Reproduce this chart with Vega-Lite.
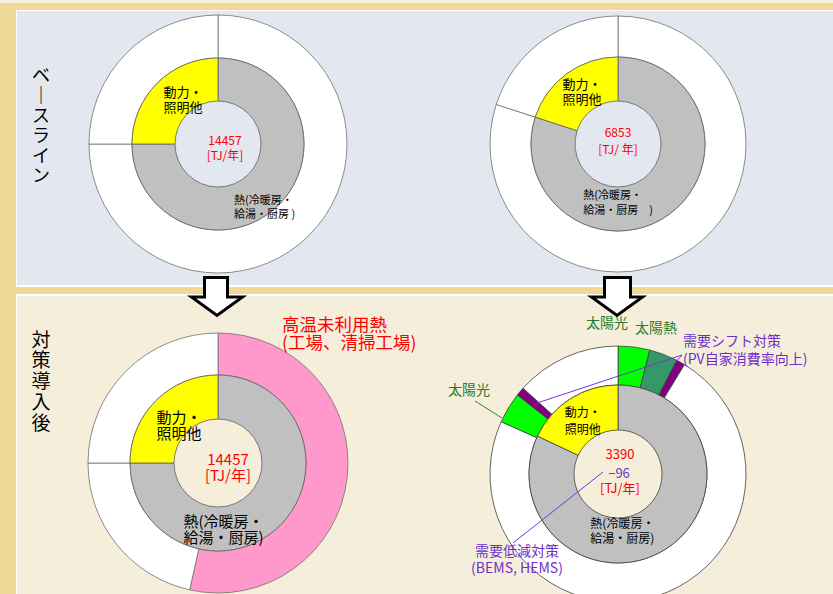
{
  "$schema": "https://vega.github.io/schema/vega-lite/v6.json",
  "padding": 0,
  "background": "#f4eedb",
  "bounds": "flush",
  "align": "each",
  "spacing": 0,
  "columns": 5,
  "data": {"values": [{}]},
  "config": {"font": "Noto Sans CJK JP", "view": {"stroke": null}, "concat": {"spacing": 0}},
  "concat": [
    {"width": 16, "height": 7, "view": {"fill": "#f0d898"}, "mark": {"type": "text", "text": ""}},
    {"width": 1, "height": 7, "view": {"fill": "#f0d898"}, "mark": {"type": "text", "text": ""}},
    {"width": 16, "height": 7, "view": {"fill": "#f0d898"}, "mark": {"type": "text", "text": ""}},
    {"width": 370, "height": 7, "view": {"fill": "#f0d898"}, "mark": {"type": "text", "text": ""}},
    {"width": 430, "height": 7, "view": {"fill": "#f0d898"}, "mark": {"type": "text", "text": ""}},

    {"width": 16, "height": 1, "view": {"fill": "#f0d898"}, "mark": {"type": "text", "text": ""}},
    {"width": 1, "height": 1, "view": {"fill": "#ffffff"}, "mark": {"type": "text", "text": ""}},
    {"width": 16, "height": 1, "view": {"fill": "#ffffff"}, "mark": {"type": "text", "text": ""}},
    {"width": 370, "height": 1, "view": {"fill": "#ffffff"}, "mark": {"type": "text", "text": ""}},
    {"width": 430, "height": 1, "view": {"fill": "#ffffff"}, "mark": {"type": "text", "text": ""}},

    {"width": 16, "height": 266, "view": {"fill": "#f0d898"}, "mark": {"type": "text", "text": ""}},
    {"width": 1, "height": 266, "view": {"fill": "#ffffff"}, "mark": {"type": "text", "text": ""}},
    {"width": 16, "height": 266, "view": {"fill": "#e3e8f0"}, "mark": {"type": "text", "text": ""}},
    {
      "width": 370, "height": 266, "view": {"fill": "#e3e8f0"},
      "data": {"values": [
        {"ring": "outer", "cat": "その他", "v": 75, "o": 1, "label": ""},
        {"ring": "outer", "cat": "その他", "v": 25, "o": 2, "label": ""},
        {"ring": "inner", "cat": "熱", "v": 75, "o": 1, "label": "熱(冷暖房・\n給湯・厨房 )"},
        {"ring": "inner", "cat": "動力・照明他", "v": 25, "o": 2, "label": "動力・\n照明他"}
      ]},
      "layer": [
        {"data": {"values": [{"t": "ベ\n｜\nス\nラ\nイ\nン"}]}, "mark": {"type": "text", "fontSize": 18, "lineHeight": 20, "lineBreak": "\n", "align": "center", "baseline": "middle", "dx": -177, "dy": -67, "fill": "#000000"},
         "encoding": {"text": {"field": "t", "type": "nominal"}}},
        {"transform": [{"filter": "datum.ring==='outer'"}], "mark": {"type": "arc", "radius": 129, "radius2": 86, "stroke": "#707070", "strokeWidth": 0.8},
         "encoding": {"theta": {"field": "v", "type": "quantitative", "stack": true, "scale": {"domain": [0, 100]}}, "order": {"field": "o", "type": "quantitative"},
           "color": {"field": "cat", "type": "nominal", "scale": {"domain": ["熱", "動力・照明他", "その他", "高温未利用熱", "太陽光", "太陽熱", "需要シフト"], "range": ["#c0c0c0", "#ffff00", "#ffffff", "#ff99cc", "#00ff00", "#339966", "#800080"]}, "legend": null}}},
        {"transform": [{"filter": "datum.ring==='inner'"}], "mark": {"type": "arc", "radius": 86, "radius2": 43, "stroke": "#606060", "strokeWidth": 0.8},
         "encoding": {"theta": {"field": "v", "type": "quantitative", "stack": true, "scale": {"domain": [0, 100]}}, "order": {"field": "o", "type": "quantitative"},
           "color": {"field": "cat", "type": "nominal", "scale": {"domain": ["熱", "動力・照明他", "その他", "高温未利用熱", "太陽光", "太陽熱", "需要シフト"], "range": ["#c0c0c0", "#ffff00", "#ffffff", "#ff99cc", "#00ff00", "#339966", "#800080"]}, "legend": null}}},
        {"transform": [{"filter": "datum.ring==='inner'"}], "mark": {"type": "text", "radius": 56, "align": "left", "baseline": "middle", "dx": -15, "dy": -11.5, "fontSize": 13, "lineHeight": 15, "lineBreak": "\n", "fill": "#000000"},
         "encoding": {"theta": {"field": "v", "type": "quantitative", "stack": true, "scale": {"domain": [0, 100]}}, "order": {"field": "o", "type": "quantitative"},
           "text": {"condition": {"test": "datum.cat==='動力・照明他'", "field": "label", "type": "nominal"}, "value": ""}}},
        {"transform": [{"filter": "datum.ring==='inner'"}], "mark": {"type": "text", "radius": 75, "align": "left", "baseline": "middle", "dx": -37, "dy": 4, "fontSize": 11, "lineHeight": 14, "lineBreak": "\n", "fill": "#000000"},
         "encoding": {"theta": {"field": "v", "type": "quantitative", "stack": true, "scale": {"domain": [0, 100]}}, "order": {"field": "o", "type": "quantitative"},
           "text": {"condition": {"test": "datum.cat==='熱'", "field": "label", "type": "nominal"}, "value": ""}}},
        {"data": {"values": [{"t": "14457\n[TJ/年]"}]}, "mark": {"type": "text", "align": "center", "baseline": "middle", "dx": 7, "dy": -3.5, "fontSize": 12, "lineHeight": 15, "lineBreak": "\n", "fill": "#ff0000"},
         "encoding": {"text": {"field": "t", "type": "nominal"}}}
      ]
    },
    {
      "width": 430, "height": 266, "view": {"fill": "#e3e8f0"},
      "data": {"values": [
        {"ring": "outer", "cat": "その他", "v": 80, "o": 1, "label": ""},
        {"ring": "outer", "cat": "その他", "v": 20, "o": 2, "label": ""},
        {"ring": "inner", "cat": "熱", "v": 80, "o": 1, "label": "熱(冷暖房・\n給湯・厨房　)"},
        {"ring": "inner", "cat": "動力・照明他", "v": 20, "o": 2, "label": "動力・\n照明他"}
      ]},
      "layer": [
        {"transform": [{"filter": "datum.ring==='outer'"}], "mark": {"type": "arc", "radius": 128, "radius2": 87, "stroke": "#707070", "strokeWidth": 0.8},
         "encoding": {"theta": {"field": "v", "type": "quantitative", "stack": true, "scale": {"domain": [0, 100]}}, "order": {"field": "o", "type": "quantitative"},
           "color": {"field": "cat", "type": "nominal", "scale": {"domain": ["熱", "動力・照明他", "その他", "高温未利用熱", "太陽光", "太陽熱", "需要シフト"], "range": ["#c0c0c0", "#ffff00", "#ffffff", "#ff99cc", "#00ff00", "#339966", "#800080"]}, "legend": null}}},
        {"transform": [{"filter": "datum.ring==='inner'"}], "mark": {"type": "arc", "radius": 87, "radius2": 43, "stroke": "#606060", "strokeWidth": 0.8},
         "encoding": {"theta": {"field": "v", "type": "quantitative", "stack": true, "scale": {"domain": [0, 100]}}, "order": {"field": "o", "type": "quantitative"},
           "color": {"field": "cat", "type": "nominal", "scale": {"domain": ["熱", "動力・照明他", "その他", "高温未利用熱", "太陽光", "太陽熱", "需要シフト"], "range": ["#c0c0c0", "#ffff00", "#ffffff", "#ff99cc", "#00ff00", "#339966", "#800080"]}, "legend": null}}},
        {"transform": [{"filter": "datum.ring==='inner'"}], "mark": {"type": "text", "radius": 64, "align": "left", "baseline": "middle", "dx": -18, "dy": -7.5, "fontSize": 13, "lineHeight": 15, "lineBreak": "\n", "fill": "#000000"},
         "encoding": {"theta": {"field": "v", "type": "quantitative", "stack": true, "scale": {"domain": [0, 100]}}, "order": {"field": "o", "type": "quantitative"},
           "text": {"condition": {"test": "datum.cat==='動力・照明他'", "field": "label", "type": "nominal"}, "value": ""}}},
        {"transform": [{"filter": "datum.ring==='inner'"}], "mark": {"type": "text", "radius": 60, "align": "left", "baseline": "middle", "dx": -70, "dy": 3.5, "fontSize": 11, "lineHeight": 15, "lineBreak": "\n", "fill": "#000000"},
         "encoding": {"theta": {"field": "v", "type": "quantitative", "stack": true, "scale": {"domain": [0, 100]}}, "order": {"field": "o", "type": "quantitative"},
           "text": {"condition": {"test": "datum.cat==='熱'", "field": "label", "type": "nominal"}, "value": ""}}},
        {"data": {"values": [{"t": "6853\n[TJ/ 年]"}]}, "mark": {"type": "text", "align": "center", "baseline": "middle", "dx": 0, "dy": -11.5, "fontSize": 12, "lineHeight": 17, "lineBreak": "\n", "fill": "#ff0000"},
         "encoding": {"text": {"field": "t", "type": "nominal"}}}
      ]
    },

    {"width": 16, "height": 8, "view": {"fill": "#f0d898"}, "mark": {"type": "text", "text": ""}},
    {"width": 1, "height": 8, "view": {"fill": "#ffffff"}, "mark": {"type": "text", "text": ""}},
    {"width": 16, "height": 8, "view": {"fill": "#e3e8f0"}, "mark": {"type": "text", "text": ""}},
    {"width": 370, "height": 8, "view": {"fill": "#e3e8f0"}, "mark": {"type": "text", "text": ""}},
    {"width": 430, "height": 8, "view": {"fill": "#e3e8f0"}, "mark": {"type": "text", "text": ""}},

    {"width": 16, "height": 2, "view": {"fill": "#f0d898"}, "mark": {"type": "text", "text": ""}},
    {"width": 1, "height": 2, "view": {"fill": "#ffffff"}, "mark": {"type": "text", "text": ""}},
    {"width": 16, "height": 2, "view": {"fill": "#ffffff"}, "mark": {"type": "text", "text": ""}},
    {"width": 370, "height": 2, "view": {"fill": "#ffffff"}, "mark": {"type": "text", "text": ""}},
    {"width": 430, "height": 2, "view": {"fill": "#ffffff"}, "mark": {"type": "text", "text": ""}},

    {"width": 16, "height": 7, "view": {"fill": "#f0d898"}, "mark": {"type": "text", "text": ""}},
    {"width": 1, "height": 7, "view": {"fill": "#f0d898"}, "mark": {"type": "text", "text": ""}},
    {"width": 16, "height": 7, "view": {"fill": "#f0d898"}, "mark": {"type": "text", "text": ""}},
    {"width": 370, "height": 7, "view": {"fill": "#f0d898"}, "mark": {"type": "text", "text": ""}},
    {"width": 430, "height": 7, "view": {"fill": "#f0d898"}, "mark": {"type": "text", "text": ""}},

    {"width": 16, "height": 2, "view": {"fill": "#f0d898"}, "mark": {"type": "text", "text": ""}},
    {"width": 1, "height": 2, "view": {"fill": "#ffffff"}, "mark": {"type": "text", "text": ""}},
    {"width": 16, "height": 2, "view": {"fill": "#ffffff"}, "mark": {"type": "text", "text": ""}},
    {"width": 370, "height": 2, "view": {"fill": "#ffffff"}, "mark": {"type": "text", "text": ""}},
    {"width": 430, "height": 2, "view": {"fill": "#ffffff"}, "mark": {"type": "text", "text": ""}},

    {"width": 16, "height": 356, "view": {"fill": "#f0d898"}, "mark": {"type": "text", "text": ""}},
    {"width": 1, "height": 356, "view": {"fill": "#ffffff"}, "mark": {"type": "text", "text": ""}},
    {"width": 16, "height": 334, "mark": {"type": "text", "text": ""}},
    {
      "width": 370, "height": 334,
      "data": {"values": [
        {"ring": "outer", "cat": "高温未利用熱", "v": 53.5, "o": 1, "label": "高温未利用熱"},
        {"ring": "outer", "cat": "その他", "v": 21.5, "o": 2, "label": ""},
        {"ring": "outer", "cat": "その他", "v": 25, "o": 3, "label": ""},
        {"ring": "inner", "cat": "熱", "v": 75, "o": 1, "label": "熱(冷暖房・\n給湯・厨房)"},
        {"ring": "inner", "cat": "動力・照明他", "v": 25, "o": 2, "label": "動力・\n照明他"}
      ]},
      "layer": [
        {"data": {"values": [{"t": "対\n策\n導\n入\n後"}]}, "mark": {"type": "text", "fontSize": 19, "lineHeight": 20.75, "lineBreak": "\n", "align": "center", "baseline": "middle", "dx": -177, "dy": -122.5, "fill": "#000000"},
         "encoding": {"text": {"field": "t", "type": "nominal"}}},
        {"transform": [{"filter": "datum.ring==='outer'"}], "mark": {"type": "arc", "radius": 130, "radius2": 88, "stroke": "#707070", "strokeWidth": 0.8},
         "encoding": {"theta": {"field": "v", "type": "quantitative", "stack": true, "scale": {"domain": [0, 100]}}, "order": {"field": "o", "type": "quantitative"},
           "color": {"field": "cat", "type": "nominal", "scale": {"domain": ["熱", "動力・照明他", "その他", "高温未利用熱", "太陽光", "太陽熱", "需要シフト"], "range": ["#c0c0c0", "#ffff00", "#ffffff", "#ff99cc", "#00ff00", "#339966", "#800080"]}, "legend": null}}},
        {"transform": [{"filter": "datum.ring==='inner'"}], "mark": {"type": "arc", "radius": 88, "radius2": 44, "stroke": "#606060", "strokeWidth": 0.8},
         "encoding": {"theta": {"field": "v", "type": "quantitative", "stack": true, "scale": {"domain": [0, 100]}}, "order": {"field": "o", "type": "quantitative"},
           "color": {"field": "cat", "type": "nominal", "scale": {"domain": ["熱", "動力・照明他", "その他", "高温未利用熱", "太陽光", "太陽熱", "需要シフト"], "range": ["#c0c0c0", "#ffff00", "#ffffff", "#ff99cc", "#00ff00", "#339966", "#800080"]}, "legend": null}}},
        {"transform": [{"filter": "datum.ring==='inner'"}], "mark": {"type": "text", "radius": 56, "align": "left", "baseline": "middle", "dx": -22, "dy": -5, "fontSize": 15, "lineHeight": 16, "lineBreak": "\n", "fill": "#000000"},
         "encoding": {"theta": {"field": "v", "type": "quantitative", "stack": true, "scale": {"domain": [0, 100]}}, "order": {"field": "o", "type": "quantitative"},
           "text": {"condition": {"test": "datum.cat==='動力・照明他'", "field": "label", "type": "nominal"}, "value": ""}}},
        {"transform": [{"filter": "datum.ring==='inner'"}], "mark": {"type": "text", "radius": 70, "align": "center", "baseline": "middle", "dx": -44, "dy": 10, "fontSize": 15, "lineHeight": 16, "lineBreak": "\n", "fill": "#000000"},
         "encoding": {"theta": {"field": "v", "type": "quantitative", "stack": true, "scale": {"domain": [0, 100]}}, "order": {"field": "o", "type": "quantitative"},
           "text": {"condition": {"test": "datum.cat==='熱'", "field": "label", "type": "nominal"}, "value": ""}}},
        {"data": {"values": [{"t": "14457\n[TJ/年]"}]}, "mark": {"type": "text", "align": "center", "baseline": "middle", "dx": 10, "dy": -3, "fontSize": 15, "lineHeight": 16, "lineBreak": "\n", "fill": "#ff0000"},
         "encoding": {"text": {"field": "t", "type": "nominal"}}},
        {"data": {"values": [{"t": "高温未利用熱\n(工場、清掃工場)"}]}, "mark": {"type": "text", "align": "left", "baseline": "middle", "dx": 64, "dy": -137, "fontSize": 17.5, "lineHeight": 18, "lineBreak": "\n", "fill": "#ff0000"},
         "encoding": {"text": {"field": "t", "type": "nominal"}}},
        {"data": {"values": [{"a": "arrow"}]}, "mark": {"type": "point", "shape": "M -13.5 -185.5 L 9.5 -185.5 L 9.5 -166 L 24.5 -166 L -1 -147.5 L -26.5 -166 L -13.5 -166 Z", "size": 4, "filled": true, "fill": "#ffffff", "stroke": "#000000", "strokeWidth": 3, "strokeJoin": "miter", "opacity": 1},
         "encoding": {}}
      ]
    },
    {
      "width": 430, "height": 356,
      "data": {"values": [
        {"ring": "outer", "cat": "太陽光", "v": 4.0, "o": 1, "label": "太陽光"},
        {"ring": "outer", "cat": "太陽熱", "v": 3.6, "o": 2, "label": "太陽熱"},
        {"ring": "outer", "cat": "需要シフト", "v": 1.1, "o": 3, "label": ""},
        {"ring": "outer", "cat": "その他", "v": 73.0, "o": 4, "label": ""},
        {"ring": "outer", "cat": "太陽光", "v": 3.9, "o": 5, "label": "太陽光"},
        {"ring": "outer", "cat": "需要シフト", "v": 1.1, "o": 6, "label": ""},
        {"ring": "outer", "cat": "その他", "v": 13.3, "o": 7, "label": ""},
        {"ring": "inner", "cat": "熱", "v": 82, "o": 1, "label": "熱(冷暖房・\n給湯・厨房)"},
        {"ring": "inner", "cat": "動力・照明他", "v": 18, "o": 2, "label": "動力・\n照明他"}
      ]},
      "layer": [
        {"transform": [{"filter": "datum.ring==='outer'"}], "mark": {"type": "arc", "radius": 128, "radius2": 89, "stroke": "#404040", "strokeWidth": 0.8},
         "encoding": {"theta": {"field": "v", "type": "quantitative", "stack": true, "scale": {"domain": [0, 100]}}, "order": {"field": "o", "type": "quantitative"},
           "color": {"field": "cat", "type": "nominal", "scale": {"domain": ["熱", "動力・照明他", "その他", "高温未利用熱", "太陽光", "太陽熱", "需要シフト"], "range": ["#c0c0c0", "#ffff00", "#ffffff", "#ff99cc", "#00ff00", "#339966", "#800080"]}, "legend": null}}},
        {"transform": [{"filter": "datum.ring==='inner'"}], "mark": {"type": "arc", "radius": 89, "radius2": 44, "stroke": "#404040", "strokeWidth": 0.8},
         "encoding": {"theta": {"field": "v", "type": "quantitative", "stack": true, "scale": {"domain": [0, 100]}}, "order": {"field": "o", "type": "quantitative"},
           "color": {"field": "cat", "type": "nominal", "scale": {"domain": ["熱", "動力・照明他", "その他", "高温未利用熱", "太陽光", "太陽熱", "需要シフト"], "range": ["#c0c0c0", "#ffff00", "#ffffff", "#ff99cc", "#00ff00", "#339966", "#800080"]}, "legend": null}}},
        {"transform": [{"filter": "datum.ring==='inner'"}], "mark": {"type": "text", "radius": 62, "align": "left", "baseline": "middle", "dx": -20, "dy": -8.5, "fontSize": 12, "lineHeight": 17, "lineBreak": "\n", "fill": "#000000"},
         "encoding": {"theta": {"field": "v", "type": "quantitative", "stack": true, "scale": {"domain": [0, 100]}}, "order": {"field": "o", "type": "quantitative"},
           "text": {"condition": {"test": "datum.cat==='動力・照明他'", "field": "label", "type": "nominal"}, "value": ""}}},
        {"transform": [{"filter": "datum.ring==='inner'"}], "mark": {"type": "text", "radius": 66, "align": "left", "baseline": "middle", "dx": -63, "dy": -5.5, "fontSize": 12, "lineHeight": 15, "lineBreak": "\n", "fill": "#000000"},
         "encoding": {"theta": {"field": "v", "type": "quantitative", "stack": true, "scale": {"domain": [0, 100]}}, "order": {"field": "o", "type": "quantitative"},
           "text": {"condition": {"test": "datum.cat==='熱'", "field": "label", "type": "nominal"}, "value": ""}}},
        {"data": {"values": [{"t": "3390"}]}, "mark": {"type": "text", "align": "center", "baseline": "middle", "dx": 2, "dy": -19, "fontSize": 13, "fill": "#ff0000"},
         "encoding": {"text": {"field": "t", "type": "nominal"}}},
        {"data": {"values": [{"t": "−96"}]}, "mark": {"type": "text", "align": "center", "baseline": "middle", "dx": 1, "dy": 0, "fontSize": 13, "fill": "#7030c8"},
         "encoding": {"text": {"field": "t", "type": "nominal"}}},
        {"data": {"values": [{"t": "[TJ/年]"}]}, "mark": {"type": "text", "align": "center", "baseline": "middle", "dx": 2, "dy": 15, "fontSize": 13, "fill": "#ff0000"},
         "encoding": {"text": {"field": "t", "type": "nominal"}}},
        {"data": {"values": [{"t": "太陽光"}]}, "mark": {"type": "text", "align": "center", "baseline": "middle", "dx": -11, "dy": -150, "fontSize": 14, "fill": "#2a7a2a"},
         "encoding": {"text": {"field": "t", "type": "nominal"}}},
        {"data": {"values": [{"t": "太陽熱"}]}, "mark": {"type": "text", "align": "center", "baseline": "middle", "dx": 38, "dy": -145, "fontSize": 14, "fill": "#2a7a2a"},
         "encoding": {"text": {"field": "t", "type": "nominal"}}},
        {"data": {"values": [{"t": "太陽光"}]}, "mark": {"type": "text", "align": "center", "baseline": "middle", "dx": -149, "dy": -83, "fontSize": 14, "fill": "#2a7a2a"},
         "encoding": {"text": {"field": "t", "type": "nominal"}}},
        {"data": {"values": [{"t": "需要シフト対策\n(PV自家消費率向上)"}]}, "mark": {"type": "text", "align": "left", "baseline": "middle", "dx": 65, "dy": -132, "fontSize": 14, "lineHeight": 18, "lineBreak": "\n", "fill": "#7030c8"},
         "encoding": {"text": {"field": "t", "type": "nominal"}}},
        {"data": {"values": [{"t": "需要低減対策\n(BEMS, HEMS)"}]}, "mark": {"type": "text", "align": "center", "baseline": "middle", "dx": -101, "dy": 77.5, "fontSize": 14, "lineHeight": 17, "lineBreak": "\n", "fill": "#7030c8"},
         "encoding": {"text": {"field": "t", "type": "nominal"}}},
        {"data": {"values": [{"line": "太陽光"}]}, "mark": {"type": "point", "shape": "M -143 -73 L -116 -56", "size": 4, "filled": false, "stroke": "#2a8a2a", "strokeWidth": 1, "opacity": 1},
         "encoding": {}},
        {"data": {"values": [{"line": "需要シフト左"}]}, "mark": {"type": "point", "shape": "M 64 -119 L -81 -71", "size": 4, "filled": false, "stroke": "#7a33dd", "strokeWidth": 1, "opacity": 1},
         "encoding": {}},
        {"data": {"values": [{"line": "需要シフト右"}]}, "mark": {"type": "point", "shape": "M 64 -119 L 57 -111", "size": 4, "filled": false, "stroke": "#7a33dd", "strokeWidth": 1, "opacity": 1},
         "encoding": {}},
        {"data": {"values": [{"line": "需要低減"}]}, "mark": {"type": "point", "shape": "M -105 69 L -15 -2", "size": 4, "filled": false, "stroke": "#7a33dd", "strokeWidth": 1, "opacity": 1},
         "encoding": {}},
        {"data": {"values": [{"a": "arrow"}]}, "mark": {"type": "point", "shape": "M -13.5 -196.5 L 12.5 -196.5 L 12.5 -177 L 24.5 -177 L -1 -158.5 L -26.5 -177 L -13.5 -177 Z", "size": 4, "filled": true, "fill": "#ffffff", "stroke": "#000000", "strokeWidth": 3, "strokeJoin": "miter", "opacity": 1},
         "encoding": {}}
      ]
    }
  ]
}
